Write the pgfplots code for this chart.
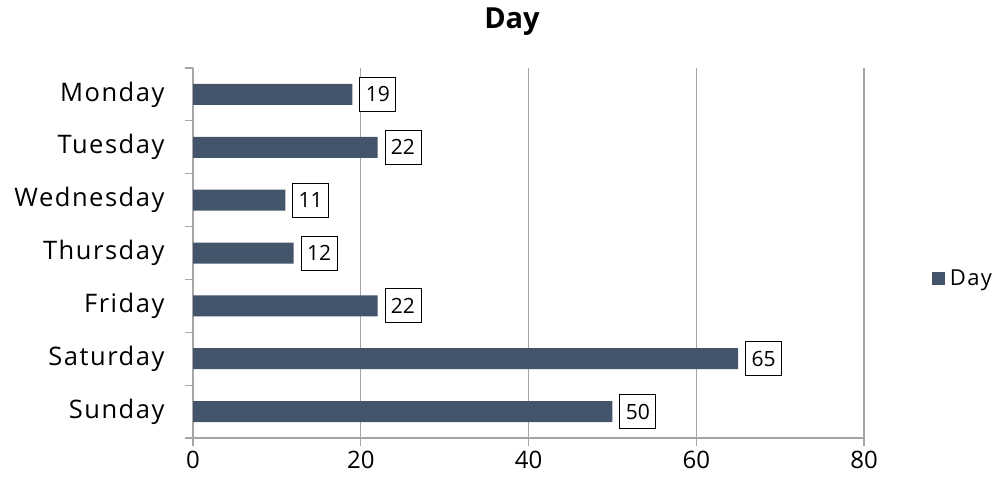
\documentclass[border=0pt]{standalone}
\usepackage{fontspec}
\setmainfont{Open Sans}
\newfontfamily\widefont[LetterSpace=6]{Open Sans}
\usepackage{pgfplots}
\pgfplotsset{compat=1.18}
\definecolor{barc}{HTML}{44546A}
\definecolor{gridc}{HTML}{A6A6A6}
\begin{document}
\begin{tikzpicture}
\path[use as bounding box] (0pt,0pt) rectangle (1000pt,-485pt);
\node[font=\fontsize{29}{33}\selectfont\bfseries] at (512pt,-22pt) {Day};
\begin{axis}[
  at={(193pt,-438pt)}, anchor=south west,
  scale only axis, width=671pt, height=370pt,
  xmin=0, xmax=80, ymin=0.5, ymax=7.5, y dir=reverse,
  xtick={0,20,40,60,80},
  ytick={1,...,7},
  yticklabels={Monday,Tuesday,Wednesday,Thursday,Friday,Saturday,Sunday},
  minor ytick={0.5,1.5,...,7.5},
  major y tick style={draw=none},
  minor tick length=8pt,
  major tick length=8pt,
  tick align=outside,
  axis x line*=bottom, axis y line*=left,
  axis line style={gridc, line width=1.2pt, -},
  tick style={gridc, line width=1.2pt},
  xmajorgrids, major grid style={gridc, line width=1.2pt},
  /pgf/number format/assume math mode=true,
  xticklabel style={font=\fontsize{24}{28}\selectfont, yshift=-2pt},
  yticklabel style={font=\widefont\fontsize{25.5}{30}\selectfont, xshift=-17pt},
  xbar, bar width=21pt,
  nodes near coords,
  every node near coord/.append style={draw=black, line width=0.9pt, fill=white, font=\fontsize{21}{24}\selectfont, inner xsep=6pt, inner ysep=0pt, minimum height=34pt, anchor=west, xshift=7pt},
  legend style={at={(1.101,0.432)}, anchor=west, draw=none, font=\widefont\fontsize{22}{26}\selectfont, fill=none, inner sep=0pt},
  legend image code/.code={\fill[#1] (0pt,-6.5pt) rectangle (13pt,6.5pt); \path (16pt,0pt);},
]
\addplot[fill=barc, draw=none] coordinates {(19,1) (22,2) (11,3) (12,4) (22,5) (65,6) (50,7)};
\addlegendentry{Day}
\end{axis}
\end{tikzpicture}
\end{document}
